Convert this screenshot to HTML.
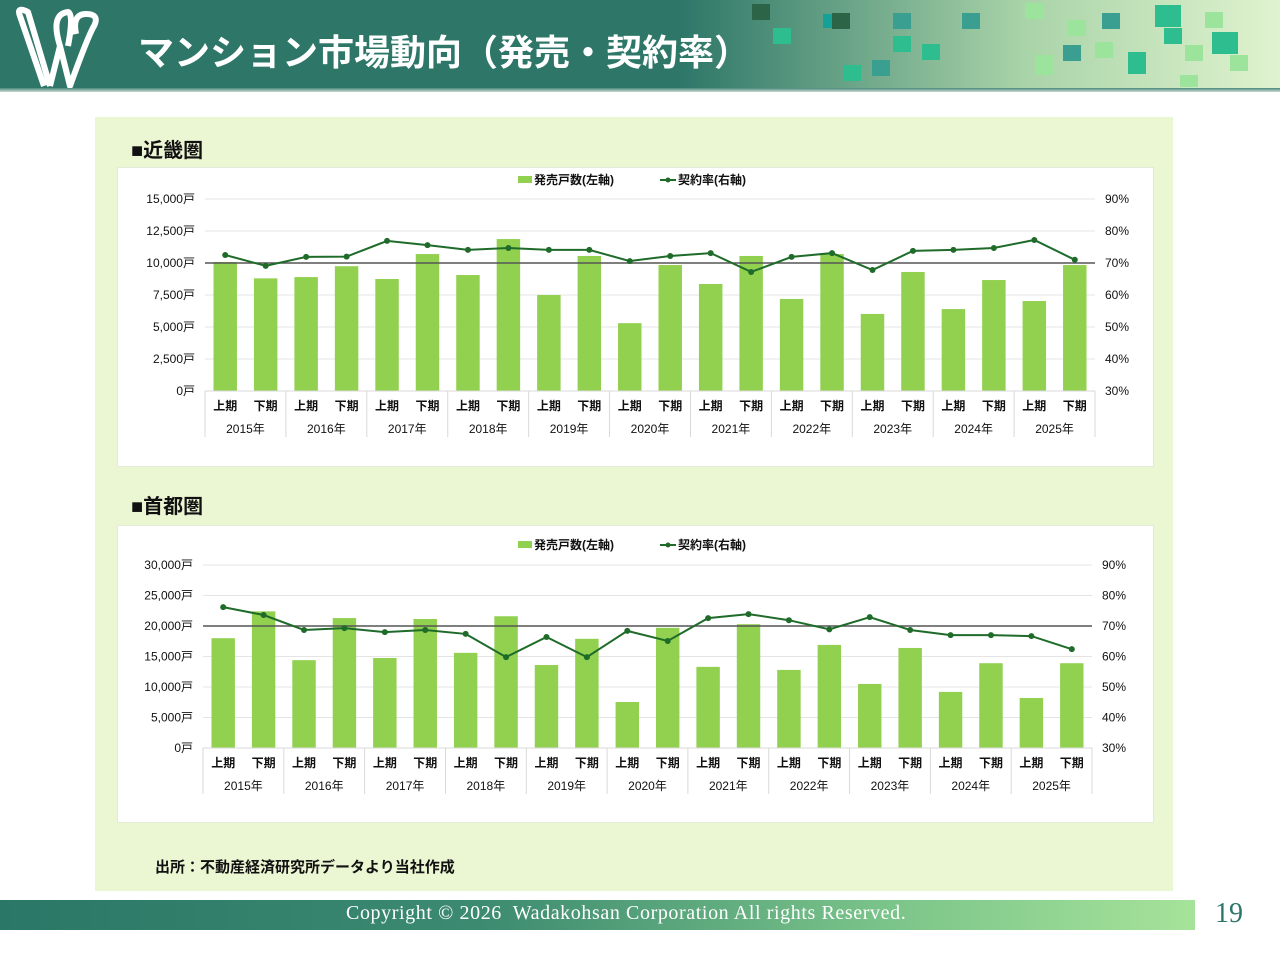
<!DOCTYPE html>
<html><head><meta charset="utf-8">
<style>
body{margin:0;width:1280px;height:960px;background:#fff;position:relative;overflow:hidden;font-family:"Liberation Sans","Noto Sans CJK JP",sans-serif}
.abs{position:absolute}
#hdr{left:0;top:0;width:1280px;height:88px;background:linear-gradient(90deg,#2d7668 0,#2d7668 53%,#a9d3a8 80%,#dff3cf 100%)}
#hline{left:0;top:88px;width:1280px;height:4px;background:linear-gradient(180deg,#4a8a7c,#c9d9d2)}
#title{left:138px;top:24px;color:#fff;font-size:36px;font-weight:bold;letter-spacing:0px;font-family:"Liberation Sans","Noto Sans CJK JP",sans-serif}
#panel{left:95px;top:117px;width:1078px;height:774px;background:#ebf6d3}
.box{background:#fff;border:1px solid #e3ead8}
.sec{font-size:20px;font-weight:bold;color:#111}
#footer{left:0;top:900px;width:1195px;height:30px;background:linear-gradient(90deg,#2a7767 0,#3c8a70 40%,#7cc58a 75%,#a6e39a 100%)}
#copy{left:346px;top:902px;color:#fff;font-size:20px;letter-spacing:0.6px;font-family:"Liberation Serif",serif;white-space:pre}
#pg{left:1215px;top:898px;font-size:28px;color:#2d7668;font-family:"Liberation Serif",serif}
svg text{font-family:"Liberation Sans","Noto Sans CJK JP",sans-serif;font-size:12px;fill:#111}
</style></head><body>
<div id="hdr" class="abs"></div>
<svg class="abs" style="left:0;top:0" width="1280" height="88">
<g fill="#2ebd8e"><rect x="823" y="14" width="12" height="14" fill="#15a098"/><rect x="773" y="28" width="18" height="16"/><rect x="893" y="36" width="18" height="16"/><rect x="922" y="44" width="18" height="16"/><rect x="843" y="65" width="18" height="16"/><rect x="1164" y="28" width="18" height="16"/><rect x="1128" y="52" width="18" height="22"/><rect x="1212" y="32" width="26" height="22"/><rect x="1155" y="5" width="26" height="22"/></g>
<g fill="#3a9f90"><rect x="752" y="4" width="18" height="16" fill="#2c6448"/><rect x="832" y="13" width="18" height="16" fill="#2c6448"/><rect x="893" y="13" width="18" height="16"/><rect x="962" y="13" width="18" height="16"/><rect x="872" y="60" width="18" height="16"/><rect x="1063" y="45" width="18" height="16"/><rect x="1102" y="13" width="18" height="16"/></g>
<g fill="#9ce39c"><rect x="1025" y="3" width="18" height="16"/><rect x="1068" y="20" width="18" height="16"/><rect x="1095" y="42" width="18" height="16"/><rect x="1035" y="55" width="18" height="20"/><rect x="1185" y="45" width="18" height="16"/><rect x="1205" y="12" width="18" height="16"/><rect x="1230" y="55" width="18" height="16"/><rect x="1180" y="75" width="18" height="12"/></g>
</svg>
<svg class="abs" style="left:10px;top:6px" width="95" height="86">
<path d="M10 10 Q6 0 18 6 L40 80 M10 10 L34 80 M40 80 L50 40 Q40 8 58 6 Q64 8 58 40 M50 40 L60 80 Q78 30 84 20 Q90 8 76 8 Q62 8 66 28" stroke="#fff" stroke-width="6" fill="none" stroke-linejoin="round"/>
</svg>
<div id="title" class="abs">マンション市場動向（発売・契約率）</div>
<div id="hline" class="abs"></div>
<div id="panel" class="abs"></div>
<div class="abs sec" style="left:131px;top:134px">■近畿圏</div>
<div class="abs box" style="left:117px;top:167px;width:1035px;height:298px"></div>
<div class="abs sec" style="left:131px;top:490px">■首都圏</div>
<div class="abs box" style="left:117px;top:525px;width:1035px;height:296px"></div>
<div class="abs" style="left:155px;top:856px;font-size:15px;font-weight:bold;color:#111">出所：不動産経済研究所データより当社作成</div>
<svg id="chart" class="abs" style="left:0;top:0" width="1280" height="960"></svg>
<div id="footer" class="abs"></div>
<div id="copy" class="abs">Copyright © 2026  Wadakohsan Corporation All rights Reserved.</div>
<div id="pg" class="abs">19</div>
<script>
const years=["2015年","2016年","2017年","2018年","2019年","2020年","2021年","2022年","2023年","2024年","2025年"];
const halves=["上期","下期"];
const kinkiUnits=[10080,8800,8900,9750,8750,10700,9060,11870,7500,10550,5300,9840,8360,10550,7190,10700,6020,9300,6400,8670,7030,9840];
const kinkiRate=[72.5,69.1,71.9,72,76.9,75.6,74.1,74.7,74.1,74.1,70.6,72.2,73.1,67.2,71.9,73.1,67.8,73.8,74.1,74.7,77.2,71];
const kinkiTicks=["0戸","2,500戸","5,000戸","7,500戸","10,000戸","12,500戸","15,000戸"];
const shutoUnits=[18000,22400,14400,21300,14750,21150,15600,21600,13600,17900,7540,19700,13300,20300,12800,16900,10500,16400,9200,13900,8200,13900];
const shutoRate=[76.2,73.6,68.7,69.3,68,68.7,67.4,59.8,66.4,59.8,68.4,65.1,72.6,73.9,71.9,68.9,72.9,68.7,67,67,66.7,62.4];
const shutoTicks=["0戸","5,000戸","10,000戸","15,000戸","20,000戸","25,000戸","30,000戸"];
const rateTicks=["30%","40%","50%","60%","70%","80%","90%"];
const svg=document.getElementById('chart');
const NS="http://www.w3.org/2000/svg";
function mk(t,a,txt){const e=document.createElementNS(NS,t);for(const k in a)e.setAttribute(k,a[k]);if(txt!=null)e.textContent=txt;svg.appendChild(e);return e;}
function draw(id,units,rate,ticks,maxU,x0,x1,yTop,yBot,legY){
  const n=units.length,cw=(x1-x0)/n;
  const yU=v=>yBot-(v/maxU)*(yBot-yTop);
  const yR=v=>yBot-((v-30)/60)*(yBot-yTop);
  const xC=i=>x0+cw*(i+0.5);
  ticks.forEach((t,i)=>{const y=yBot-i*(yBot-yTop)/6;
    if(i>0){const g=mk('line',{x1:x0,x2:x1,y1:y,y2:y,stroke:'#e4e4e4','stroke-width':1});}
    const l=mk('text',{x:x0-10,y:y+4,'text-anchor':'end'},t);
    const r=mk('text',{x:x1+10,y:y+4},rateTicks[i]);});
  units.forEach((v,i)=>{const w=cw*0.58;
    const b=mk('rect',{x:xC(i)-w/2,y:yU(v),width:w,height:yBot-yU(v),fill:'#92d050'});
    
    const h=mk('text',{x:xC(i),y:yBot+19,'text-anchor':'middle','font-size':'11','font-weight':'bold'},halves[i%2]);
    });
  years.forEach((t,j)=>{const yl=mk('text',{x:x0+cw*(2*j+1),y:yBot+42,'text-anchor':'middle'},t);
    
    const s=mk('line',{x1:x0+cw*2*j,x2:x0+cw*2*j,y1:yBot,y2:yBot+46,stroke:'#d9d9d9'});});
  const s2=mk('line',{x1:x1,x2:x1,y1:yBot,y2:yBot+46,stroke:'#d9d9d9'});
  const ax=mk('line',{x1:x0,x2:x1,y1:yBot,y2:yBot,stroke:'#d9d9d9'});
  const ref=mk('line',{x1:x0,x2:x1,y1:yR(70),y2:yR(70),stroke:'#555','stroke-width':1.5});
  const pl=mk('polyline',{points:rate.map((v,i)=>xC(i)+','+yR(v)).join(' '),fill:'none',stroke:'#1e6b2a','stroke-width':2});
  
  rate.forEach((v,i)=>{const c=mk('circle',{cx:xC(i),cy:yR(v),r:3,fill:'#1e6b2a'});});
  const lb=mk('rect',{x:518,y:legY-5,width:14,height:7,fill:'#92d050'});
  const lt=mk('text',{x:534,y:legY+3,'font-size':'11','font-weight':'bold'},'発売戸数(左軸)');
  const ll=mk('line',{x1:660,x2:676,y1:legY-1,y2:legY-1,stroke:'#1e6b2a','stroke-width':2});
  const lc=mk('circle',{cx:668,cy:legY-1,r:2.5,fill:'#1e6b2a'});
  const lt2=mk('text',{x:678,y:legY+3,'font-size':'11','font-weight':'bold'},'契約率(右軸)');
}
draw('kinki',kinkiUnits,kinkiRate,kinkiTicks,15000,205,1095,199,391,181);
draw('shutoken',shutoUnits,shutoRate,shutoTicks,30000,203,1092,565,748,546);
</script>
</body></html>
